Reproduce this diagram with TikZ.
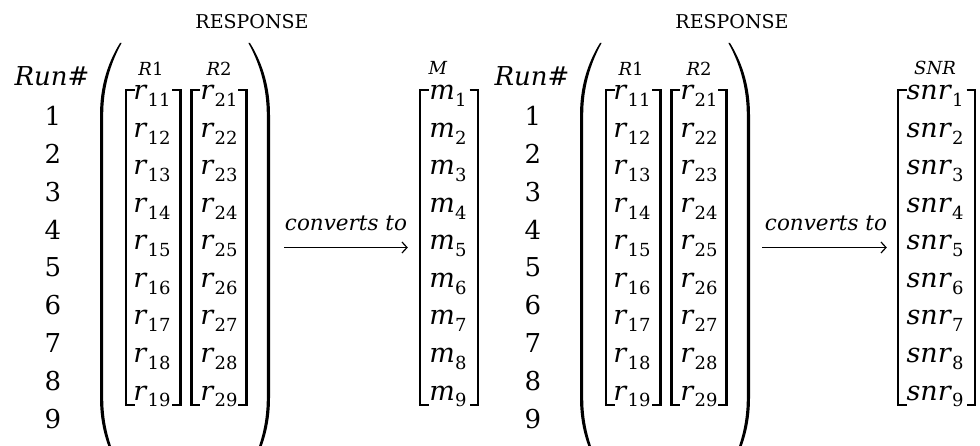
\documentclass[tikz,border=0pt]{standalone}
\usepackage{fontspec}
\setmainfont{DejaVu Serif}
\usetikzlibrary{arrows.meta}
\newcommand\subent[2]{\textit{#1}\raisebox{-0.25em}{\fontsize{18}{18}\selectfont #2}}
\tikzset{
  ent/.style={anchor=base, inner sep=0pt, font=\fontsize{27}{27}\selectfont},
  hdr/.style={anchor=base, inner sep=0pt, font=\fontsize{18}{18}\selectfont},
  num/.style={anchor=base, inner sep=0pt, font=\fontsize{26}{26}\selectfont},
  runl/.style={anchor=base, inner sep=0pt, font=\fontsize{26}{26}\selectfont},
  resp/.style={anchor=base, inner sep=0pt, font=\fontsize{19}{19}\selectfont},
  conv/.style={anchor=base, inner sep=0pt, font=\fontsize{21.5}{21.5}\selectfont\itshape},
  brk/.style={line width=2.4pt, line join=miter, line cap=butt},
  parfill/.style={fill=black, draw=none},
  conn/.style={line width=1.2pt, -{Straight Barb[length=5pt,width=11pt]}},
  box/.style={inner sep=0pt, draw=none},
}
\begin{document}
\begin{tikzpicture}[x=1pt,y=-1pt]
\useasboundingbox (0,0) rectangle (980,446);
\foreach \k/\ox in {a/0,b/480}{
  \begin{scope}[xshift=\ox pt]
    \node[resp] (resp\k) at (252,29) {RESPONSE};
    \node[runl] (run\k) at (52,86) {\textit{Run}\#};
    \node[hdr] (h1\k) at (151,76) {\textit{R}1};
    \node[hdr] (h2\k) at (219,76) {\textit{R}2};
    \foreach \i in {1,...,9}{
      \pgfmathsetmacro\yn{126+37.75*(\i-1)}
      \pgfmathsetmacro\ye{100+37.5*(\i-1)}
      \node[num] (n\k\i) at (53,\yn) {\i};
      \node[ent] (ra\k\i) at (152,\ye) {\subent{r}{1\i}};
      \node[ent] (rb\k\i) at (219,\ye) {\subent{r}{2\i}};
    }
    % brackets of R1 and R2
    \draw[brk] (134.5,90) -- (126,90) -- (126,405) -- (134.5,405);
    \draw[brk] (172,90) -- (180.5,90) -- (180.5,405) -- (172,405);
    \draw[brk] (200,90) -- (191.5,90) -- (191.5,405) -- (200,405);
    \draw[brk] (238,90) -- (246.5,90) -- (246.5,405) -- (238,405);
    % big parentheses
    \fill[parfill] (120,43) .. controls (107,64) and (100,88) .. (100,115)
      -- (100,398) .. controls (100,425) and (107,449) .. (120,470)
      -- (121.6,470) .. controls (110,449) and (103.2,425) .. (103.2,398)
      -- (103.2,115) .. controls (103.2,88) and (110,64) .. (121.6,43) -- cycle;
    \fill[parfill] (250,43) .. controls (263,64) and (270,88) .. (270,115)
      -- (270,398) .. controls (270,425) and (263,449) .. (250,470)
      -- (248.4,470) .. controls (260,449) and (266.8,425) .. (266.8,398)
      -- (266.8,115) .. controls (266.8,88) and (260,64) .. (248.4,43) -- cycle;
    \node[box, minimum width=170pt, minimum height=427pt] (grp\k) at (185,256.5) {};
    \node[conv] (cv\k) at (346,231) {converts to};
  \end{scope}
}
% M matrix
\node[hdr] (hM) at (438,75) {\textit{M}};
\foreach \i in {1,...,9}{
  \pgfmathsetmacro\ye{100+37.5*(\i-1)}
  \node[ent] (m\i) at (448,\ye) {\subent{m}{\i}};
  \node[ent] (s\i) at (935,\ye) {\subent{snr}{\i}};
}
\draw[brk] (428.5,90) -- (420,90) -- (420,405) -- (428.5,405);
\draw[brk] (469.5,90) -- (478,90) -- (478,405) -- (469.5,405);
\node[box, minimum width=60pt, minimum height=315pt] (mata) at (449,247.5) {};
% SNR matrix
\node[hdr] (hS) at (935,75) {\textit{SNR}};
\draw[brk] (906.5,90) -- (898,90) -- (898,405) -- (906.5,405);
\draw[brk] (966.5,90) -- (975,90) -- (975,405) -- (966.5,405);
\node[box, minimum width=79pt, minimum height=315pt] (matb) at (936.5,247.5) {};
% connectors
\draw[conn] ([xshift=14pt]grpa.east |- mata.west) -- ([xshift=-11pt]mata.west);
\draw[conn] ([xshift=12pt]grpb.east |- matb.west) -- ([xshift=-10pt]matb.west);
\end{tikzpicture}
\end{document}
